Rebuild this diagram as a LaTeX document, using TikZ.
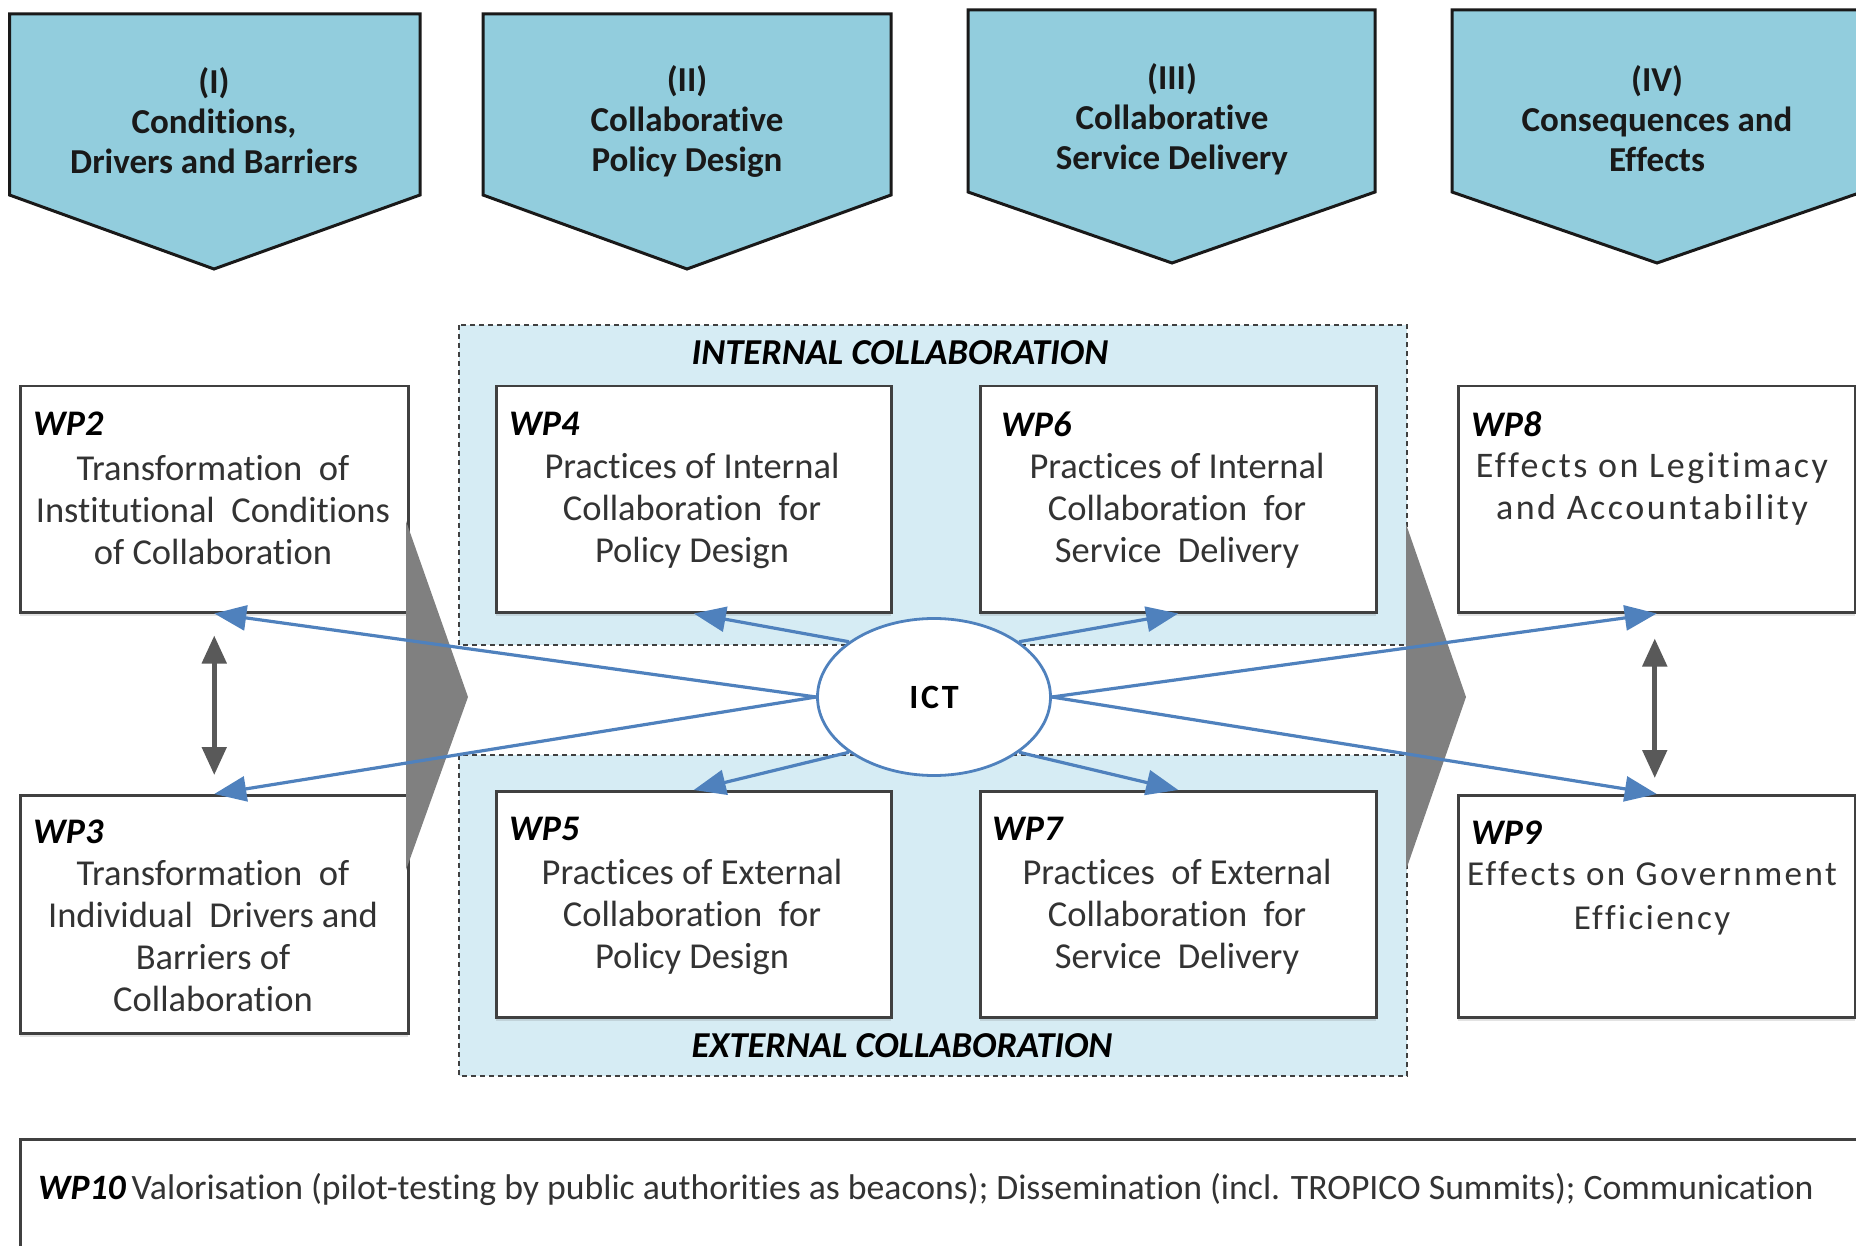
\documentclass[tikz,border=0pt]{standalone}
\usepackage{fontspec}
\setmainfont{Carlito}[Ligatures={NoCommon,NoRare}]
\newfontfamily\spacedfont{Carlito}[LetterSpace=7,Ligatures={NoCommon,NoRare}]
\newfontfamily\ictfont{Carlito}[LetterSpace=8,Ligatures={NoCommon,NoRare}]
\usetikzlibrary{arrows.meta,shapes.geometric,calc,shadows}
\definecolor{penta}{RGB}{146,205,221}
\definecolor{zone}{RGB}{214,236,244}
\definecolor{ictblue}{RGB}{79,129,189}
\definecolor{darkarrow}{RGB}{89,89,89}
\definecolor{tri}{RGB}{128,128,128}
\definecolor{boxline}{RGB}{64,64,64}
\begin{document}
\begin{tikzpicture}[x=1pt,y=-1pt,
  penta/.style={draw=black!90,line width=3pt,fill=penta,line join=miter},
  headtext/.style={align=center,font=\fontsize{35}{40}\selectfont\bfseries,text=black!90},
  zonebox/.style={fill=zone,draw=black!75,line width=1.6pt,dash pattern=on 5pt off 4pt},
  zonelabel/.style={font=\fontsize{36.5}{40}\selectfont\bfseries\itshape},
  wpbox/.style={draw=boxline,line width=2.5pt,fill=white,inner sep=0pt,anchor=north west,
    drop shadow={shadow xshift=0pt,shadow yshift=-4pt,opacity=0.18,fill=black!60}},
  wplabel/.style={anchor=west,font=\fontsize{36}{40}\selectfont\bfseries\itshape,inner sep=0pt},
  wptext/.style={align=center,font=\fontsize{36.5}{42}\selectfont,text=black!80,inner sep=0pt},
  widetext/.style={wptext,font=\fontsize{36}{42}\selectfont\spacedfont},
  ictnode/.style={ellipse,draw=ictblue,line width=2.8pt,fill=white,minimum width=233pt,minimum height=157pt,inner sep=0pt,font=\fontsize{34}{36}\selectfont\ictfont\bfseries},
  bluearrow/.style={draw=ictblue,line width=3.2pt,-{Triangle[length=32pt,width=25pt]}},
  grayarrow/.style={draw=darkarrow,line width=5pt,{Triangle[length=28pt,width=24pt]}-{Triangle[length=28pt,width=24pt]}},
  trishape/.style={fill=tri}]
\useasboundingbox (0,0) rectangle (1856,1246);
\clip (0,0) rectangle (1856,1246);
\fill[white] (0,0) rectangle (1856,1246);

% header pentagons
\path[penta] (9.5,14) -- (420,14) -- (420,195) -- (214,269) -- (9.5,195) -- cycle;
\path[penta] (483,14) -- (891,14) -- (891,195) -- (687,269) -- (483,195) -- cycle;
\path[penta] (968,10) -- (1375,10) -- (1375,192) -- (1172,263) -- (968,192) -- cycle;
\path[penta] (1452,10) -- (1862,10) -- (1862,192) -- (1657,263) -- (1452,192) -- cycle;
\node[headtext] (h1) at (214,121) {(I)\\Conditions,\\Drivers and Barriers};
\node[headtext] (h2) at (687,121) {(II)\\Collaborative\\Policy Design};
\node[headtext] (h3) at (1172,119) {(III)\\Collaborative\\Service Delivery};
\node[headtext] (h4) at (1657,119) {(IV)\\Consequences and\\Effects};

% collaboration zones
\path[zonebox] (459,325) rectangle (1407,645);
\path[zonebox] (459,755) rectangle (1407,1076);
\node[zonelabel] (zin) at (900,353) {INTERNAL COLLABORATION};
\node[zonelabel] (zex) at (902,1046) {EXTERNAL COLLABORATION};

% work package boxes
\node[wpbox,minimum width=388pt,minimum height=226pt] (wp2) at (19,385) {};
\node[wpbox,minimum width=388pt,minimum height=238pt] (wp3) at (19,794) {};
\node[wpbox,minimum width=395pt,minimum height=226pt] (wp4) at (495,385) {};
\node[wpbox,minimum width=396pt,minimum height=226pt] (wp6) at (979,385) {};
\node[wpbox,minimum width=395pt,minimum height=226pt] (wp5) at (495,790) {};
\node[wpbox,minimum width=396pt,minimum height=226pt] (wp7) at (979,790) {};
\node[wpbox,minimum width=397pt,minimum height=226pt] (wp8) at (1457,385) {};
\node[wpbox,minimum width=397pt,minimum height=222pt] (wp9) at (1457,794) {};
\node[wpbox,minimum width=1860pt,minimum height=140pt] (wp10) at (19,1138) {};

\node[wplabel] (l2) at (33,424) {WP2};
\node[wptext] (t2) at (213,510) {Transformation \ of\\Institutional \ Conditions\\of Collaboration};
\node[wplabel] (l3) at (33,832) {WP3};
\node[wptext] (t3) at (213,936) {Transformation \ of\\Individual \ Drivers and\\Barriers of\\Collaboration};
\node[wplabel] (l4) at (509,424) {WP4};
\node[wptext] (t4) at (692,511) {Practices of Internal\\Collaboration \ for\\Policy Design};
\node[wplabel] (l6) at (1001,424) {WP6};
\node[wptext] (t6) at (1177,511) {Practices of Internal\\Collaboration \ for\\Service \ Delivery};
\node[wplabel] (l5) at (509,829) {WP5};
\node[wptext] (t5) at (692,917) {Practices of External\\Collaboration \ for\\Policy Design};
\node[wplabel] (l7) at (992,829) {WP7};
\node[wptext] (t7) at (1177,917) {Practices \ of External\\Collaboration \ for\\Service \ Delivery};
\node[wplabel] (l8) at (1471,424) {WP8};
\node[widetext] (t8) at (1652,489) {Effects on Legitimacy\\and Accountability};
\node[wplabel] (l9) at (1471,833) {WP9};
\node[widetext,font=\fontsize{35}{44}\selectfont\spacedfont] (t9) at (1652,898) {Effects on Government\\Efficiency};
\node[anchor=west,inner sep=0pt,font=\fontsize{35.7}{40}\selectfont,text=black!80] (t10) at (38,1190) {{\bfseries\itshape\color{black}WP10}\,Valorisation (pilot-testing by public authorities as beacons); Dissemination (incl. TROPICO Summits); Communication};

% big grey triangles
\path[trishape] (406,521) -- (468,697) -- (406,870) -- cycle;
\path[trishape] (1406,524) -- (1466,697) -- (1406,870) -- cycle;

% ICT
\node[ictnode] (ict) at (934,697) {ICT};

% grey double arrows
\draw[grayarrow] ($(wp2.south)+(0,22)$) -- ($(wp3.north)+(0,-19)$);
\draw[grayarrow] ($(wp8.south)+(-2,25)$) -- ($(wp9.north)+(-2,-16)$);

% blue arrows
\draw[bluearrow] (ict.west) -- (wp2.south);
\draw[bluearrow] (ict.west) -- (wp3.north);
\draw[bluearrow] (ict.147) -- (wp4.south);
\draw[bluearrow] (ict.33) -- (wp6.south);
\draw[bluearrow] (ict.213) -- (wp5.north);
\draw[bluearrow] (ict.327) -- (wp7.north);
\draw[bluearrow] (ict.east) -- (wp8.south);
\draw[bluearrow] (ict.east) -- (wp9.north);
\end{tikzpicture}
\end{document}
